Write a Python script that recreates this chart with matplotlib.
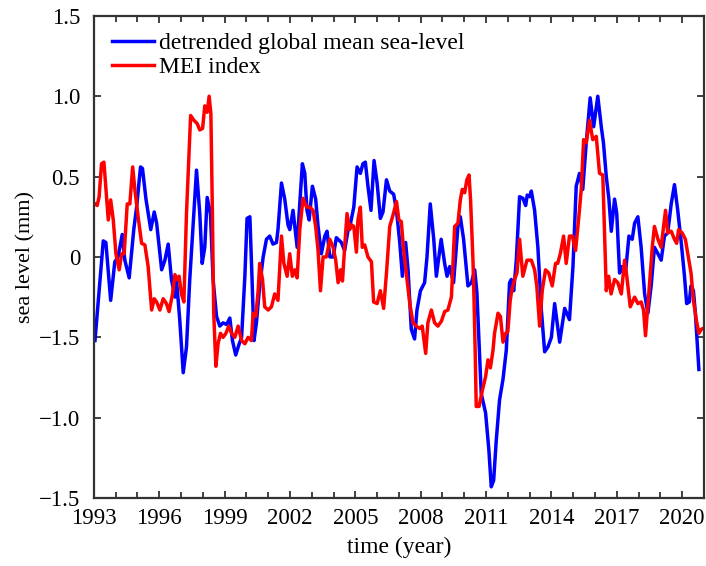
import numpy as np
import matplotlib
matplotlib.use("Agg")
import matplotlib.pyplot as plt
from matplotlib.ticker import MultipleLocator, FixedLocator, FixedFormatter

plt.rcParams['font.family'] = ['Liberation Serif', 'DejaVu Serif']

# detrended global mean sea-level
gmsl_t = [1993.05, 1993.43, 1993.55, 1993.77, 1993.96, 1994.11, 1994.30, 1994.42, 1994.62, 1994.83,
          1994.96, 1995.14, 1995.23, 1995.39, 1995.61, 1995.77, 1995.88, 1996.11, 1996.26, 1996.41,
          1996.56, 1996.72, 1996.79, 1996.94, 1997.10, 1997.25, 1997.40, 1997.71, 1997.86, 1997.97,
          1998.09, 1998.20, 1998.35, 1998.47, 1998.63, 1998.78, 1998.93, 1999.09, 1999.24, 1999.36,
          1999.51, 1999.67, 1999.78, 1999.93, 2000.03, 2000.16, 2000.26, 2000.35, 2000.46, 2000.61,
          2000.77, 2000.92, 2001.07, 2001.22, 2001.38, 2001.45, 2001.61, 2001.76, 2001.91, 2001.99,
          2002.14, 2002.33, 2002.42, 2002.57, 2002.68, 2002.78, 2002.88, 2003.03, 2003.18, 2003.29,
          2003.44, 2003.60, 2003.70, 2003.83, 2003.98, 2004.13, 2004.36, 2004.51, 2004.67, 2004.78,
          2004.93, 2005.08, 2005.23, 2005.35, 2005.46, 2005.58, 2005.72, 2005.86, 2006.00, 2006.15,
          2006.27, 2006.43, 2006.58, 2006.76, 2006.89, 2007.04, 2007.16, 2007.31, 2007.42, 2007.57,
          2007.72, 2007.83, 2007.99, 2008.18, 2008.29, 2008.44, 2008.60, 2008.72, 2008.94, 2009.10,
          2009.21, 2009.33, 2009.51, 2009.71, 2009.82, 2009.97, 2010.17, 2010.33, 2010.48, 2010.58,
          2010.71, 2010.78, 2010.98, 2011.13, 2011.24, 2011.35, 2011.47, 2011.62, 2011.78, 2011.93,
          2012.08, 2012.16, 2012.27, 2012.39, 2012.54, 2012.69, 2012.82, 2012.89, 2013.00, 2013.08,
          2013.23, 2013.38, 2013.54, 2013.69, 2013.84, 2014.00, 2014.15, 2014.38, 2014.61, 2014.83,
          2014.99, 2015.14, 2015.29, 2015.44, 2015.60, 2015.78, 2015.94, 2016.13, 2016.29, 2016.39,
          2016.52, 2016.64, 2016.75, 2016.90, 2017.00, 2017.13, 2017.25, 2017.40, 2017.56, 2017.71,
          2017.82, 2017.97, 2018.12, 2018.28, 2018.43, 2018.58, 2018.73, 2018.89, 2019.04, 2019.19,
          2019.34, 2019.50, 2019.65, 2019.80, 2019.96, 2020.11, 2020.21, 2020.33, 2020.41, 2020.52,
          2020.61, 2020.77]
gmsl_v = [-0.52, 0.10, 0.09, -0.27, -0.03, 0.00, 0.14, -0.02, -0.13, 0.17,
          0.31, 0.56, 0.55, 0.36, 0.17, 0.28, 0.21, -0.08, -0.02, 0.08,
          -0.14, -0.25, -0.14, -0.39, -0.72, -0.56, -0.14, 0.54, 0.27, -0.04,
          0.06, 0.37, 0.27, -0.14, -0.37, -0.43, -0.41, -0.42, -0.38, -0.52,
          -0.61, -0.54, -0.50, -0.12, 0.24, 0.25, -0.14, -0.52, -0.41, -0.18,
          0.00, 0.11, 0.13, 0.08, 0.09, 0.17, 0.46, 0.36, 0.20, 0.17,
          0.29, 0.06, 0.27, 0.58, 0.52, 0.29, 0.23, 0.44, 0.36, 0.19,
          0.02, 0.13, 0.16, 0.00, 0.00, 0.12, 0.09, 0.04, 0.17, 0.21,
          0.31, 0.56, 0.52, 0.58, 0.59, 0.44, 0.29, 0.60, 0.46, 0.24,
          0.28, 0.48, 0.41, 0.39, 0.29, 0.09, -0.12, 0.09, -0.08, -0.45,
          -0.51, -0.33, -0.21, -0.16, 0.00, 0.33, 0.11, -0.12, 0.11, -0.04,
          -0.12, -0.06, -0.16, 0.19, 0.25, 0.11, -0.18, -0.16, -0.08, -0.22,
          -0.64, -0.85, -0.97, -1.20, -1.43, -1.39, -1.14, -0.89, -0.76, -0.58,
          -0.16, -0.14, -0.21, -0.02, 0.375, 0.365, 0.32, 0.385, 0.375, 0.41,
          0.29, 0.06, -0.33, -0.59, -0.56, -0.50, -0.29, -0.53, -0.32, -0.39,
          -0.06, 0.44, 0.52, 0.42, 0.71, 0.99, 0.81, 1.00, 0.81, 0.71,
          0.50, 0.36, 0.16, 0.36, 0.27, -0.10, -0.06, -0.10, 0.13, 0.11,
          0.21, 0.25, 0.06, -0.23, -0.35, -0.18, 0.06, 0.02, -0.02, 0.13,
          0.15, 0.33, 0.45, 0.29, 0.09, -0.12, -0.29, -0.28, -0.18, -0.21,
          -0.35, -0.70]

# MEI index
mei_t = [1993.05, 1993.15, 1993.24, 1993.35, 1993.46, 1993.58, 1993.66, 1993.77, 1993.89, 1994.01,
         1994.16, 1994.28, 1994.39, 1994.53, 1994.65, 1994.78, 1994.88, 1995.03, 1995.19, 1995.34,
         1995.49, 1995.65, 1995.77, 1995.88, 1996.03, 1996.18, 1996.33, 1996.45, 1996.61, 1996.72,
         1996.82, 1996.91, 1997.02, 1997.13, 1997.25, 1997.44, 1997.59, 1997.74, 1997.86, 1997.99,
         1998.09, 1998.20, 1998.29, 1998.37, 1998.44, 1998.50, 1998.60, 1998.70, 1998.81, 1998.93,
         1999.06, 1999.19, 1999.32, 1999.47, 1999.62, 1999.78, 1999.93, 2000.08, 2000.23, 2000.31,
         2000.43, 2000.54, 2000.61, 2000.74, 2000.84, 2001.00, 2001.15, 2001.30, 2001.45, 2001.61,
         2001.72, 2001.87, 2001.99, 2002.11, 2002.22, 2002.33, 2002.45, 2002.60, 2002.76, 2002.91,
         2003.06, 2003.18, 2003.29, 2003.40, 2003.52, 2003.67, 2003.83, 2003.98, 2004.10, 2004.21,
         2004.32, 2004.41, 2004.51, 2004.62, 2004.74, 2004.82, 2004.93, 2005.05, 2005.12, 2005.23,
         2005.32, 2005.43, 2005.58, 2005.74, 2005.84, 2006.00, 2006.15, 2006.30, 2006.43, 2006.58,
         2006.73, 2006.89, 2007.00, 2007.11, 2007.22, 2007.37, 2007.50, 2007.65, 2007.80, 2007.95,
         2008.07, 2008.23, 2008.33, 2008.49, 2008.64, 2008.79, 2008.95, 2009.10, 2009.25, 2009.41,
         2009.45, 2009.56, 2009.71, 2009.82, 2009.91, 2010.02, 2010.12, 2010.22, 2010.29, 2010.40,
         2010.45, 2010.51, 2010.55, 2010.68, 2010.83, 2010.98, 2011.09, 2011.20, 2011.32, 2011.39,
         2011.55, 2011.66, 2011.78, 2011.90, 2012.00, 2012.11, 2012.18, 2012.31, 2012.42, 2012.54,
         2012.69, 2012.88, 2013.08, 2013.23, 2013.33, 2013.46, 2013.58, 2013.73, 2013.88, 2014.04,
         2014.19, 2014.29, 2014.41, 2014.56, 2014.68, 2014.83, 2014.96, 2015.11, 2015.26, 2015.37,
         2015.48, 2015.60, 2015.75, 2015.90, 2016.06, 2016.21, 2016.36, 2016.52, 2016.63, 2016.74,
         2016.90, 2017.05, 2017.21, 2017.36, 2017.46, 2017.62, 2017.82, 2017.97, 2018.12, 2018.23,
         2018.32, 2018.47, 2018.63, 2018.73, 2018.89, 2019.04, 2019.15, 2019.24, 2019.34, 2019.50,
         2019.65, 2019.75, 2019.84, 2020.00, 2020.15, 2020.26, 2020.41, 2020.52, 2020.65, 2020.77,
         2020.88, 2021.03]
mei_v = [0.33, 0.32, 0.375, 0.58, 0.59, 0.375, 0.23, 0.355, 0.23, 0.02,
         -0.08, 0.02, 0.02, 0.33, 0.33, 0.56, 0.42, 0.25, 0.085, 0.075,
         -0.06, -0.33, -0.26, -0.28, -0.33, -0.26, -0.29, -0.34, -0.23, -0.11,
         -0.14, -0.12, -0.23, -0.28, 0.27, 0.88, 0.85, 0.83, 0.79, 0.80,
         0.94, 0.90, 1.00, 0.89, 0.27, -0.35, -0.68, -0.54, -0.475, -0.50,
         -0.475, -0.43, -0.475, -0.50, -0.43, -0.52, -0.54, -0.50, -0.52, -0.35,
         -0.37, -0.21, -0.04, -0.14, -0.31, -0.33, -0.31, -0.23, -0.27, 0.13,
         -0.04, -0.12, 0.02, -0.12, -0.08, -0.13, 0.17, 0.365, 0.31, 0.31,
         0.29, 0.19, 0.04, -0.21, 0.00, 0.00, 0.11, 0.06, -0.02, -0.16,
         -0.08, -0.15, 0.06, 0.27, 0.17, 0.20, 0.19, 0.03, 0.23, 0.31,
         0.06, 0.075, 0.00, -0.03, -0.28, -0.29, -0.21, -0.32, -0.10, 0.19,
         0.26, 0.345, 0.23, 0.22, 0.04, -0.14, -0.29, -0.41, -0.43, -0.445,
         -0.43, -0.60, -0.41, -0.33, -0.41, -0.43, -0.40, -0.34, -0.33, -0.25,
         -0.14, 0.19, 0.21, 0.355, 0.42, 0.40, 0.48, 0.51, 0.355, -0.02,
         -0.27, -0.64, -0.93, -0.93, -0.83, -0.745, -0.64, -0.69, -0.58, -0.475,
         -0.35, -0.37, -0.53, -0.475, -0.465, -0.27, -0.21, -0.14, -0.10, 0.11,
         -0.12, -0.02, -0.02, -0.08, -0.18, -0.43, -0.21, -0.08, -0.10, -0.18,
         -0.04, -0.04, 0.02, 0.13, -0.04, 0.13, 0.13, 0.04, 0.25, 0.42,
         0.73, 0.71, 0.85, 0.73, 0.75, 0.52, 0.51, -0.21, -0.12, -0.23,
         -0.14, -0.16, -0.23, -0.02, -0.12, -0.31, -0.25, -0.29, -0.28, -0.33,
         -0.49, -0.23, 0.06, 0.19, 0.11, 0.06, 0.19, 0.29, 0.15, 0.16,
         0.11, 0.085, 0.17, 0.15, 0.11, 0.02, -0.10, -0.27, -0.39, -0.475,
         -0.45, -0.44]

xtick_years = [1993, 1996, 1999, 2002, 2005, 2008, 2011, 2014, 2017, 2020]
ytick_vals = [-1.5, -1.0, -0.5, 0, 0.5, 1.0, 1.5]
ytick_labels = ['\u22121.5', '\u22121.0', '\u22121.5', '0', '0.5', '1.0', '1.5']

fs = 16.5

fig = plt.figure(figsize=(7.06, 5.66), dpi=100)
ax = fig.add_axes([0.133, 0.120, 0.864, 0.852])

ax.plot(gmsl_t, gmsl_v, color='#0000ff', lw=2.5, label='detrended global mean sea-level')
ax.plot(mei_t, mei_v, color='#ff0000', lw=2.5, label='MEI index')

ax.set_xlim(1993, 2021)
ax.set_ylim(-1.5, 1.5)
ax.xaxis.set_major_locator(FixedLocator(xtick_years))
ax.xaxis.set_major_formatter(FixedFormatter([str(y) for y in xtick_years]))
ax.xaxis.set_minor_locator(MultipleLocator(1))
ax.yaxis.set_major_locator(FixedLocator(ytick_vals))
ax.yaxis.set_major_formatter(FixedFormatter(ytick_labels))

ax.tick_params(which='both', direction='in', top=True, right=True, width=1.3,
               labelsize=fs, color='#333333')
ax.tick_params(which='major', length=5)
ax.tick_params(which='minor', length=4)
ax.tick_params(axis='x', pad=7)
ax.tick_params(axis='y', pad=10)
for s in ax.spines.values():
    s.set_linewidth(1.6)
    s.set_color('#333333')

ax.set_xlabel('time (year)', fontsize=17, labelpad=6)
ax.set_ylabel('sea level (mm)', fontsize=16, labelpad=2)

ax.legend(loc='upper left', frameon=False, fontsize=17, handlelength=1.75,
          handletextpad=0.2, labelspacing=0.12, borderaxespad=0.0,
          bbox_to_anchor=(0.015, 0.985))

fig.savefig('out.png', dpi=100)
